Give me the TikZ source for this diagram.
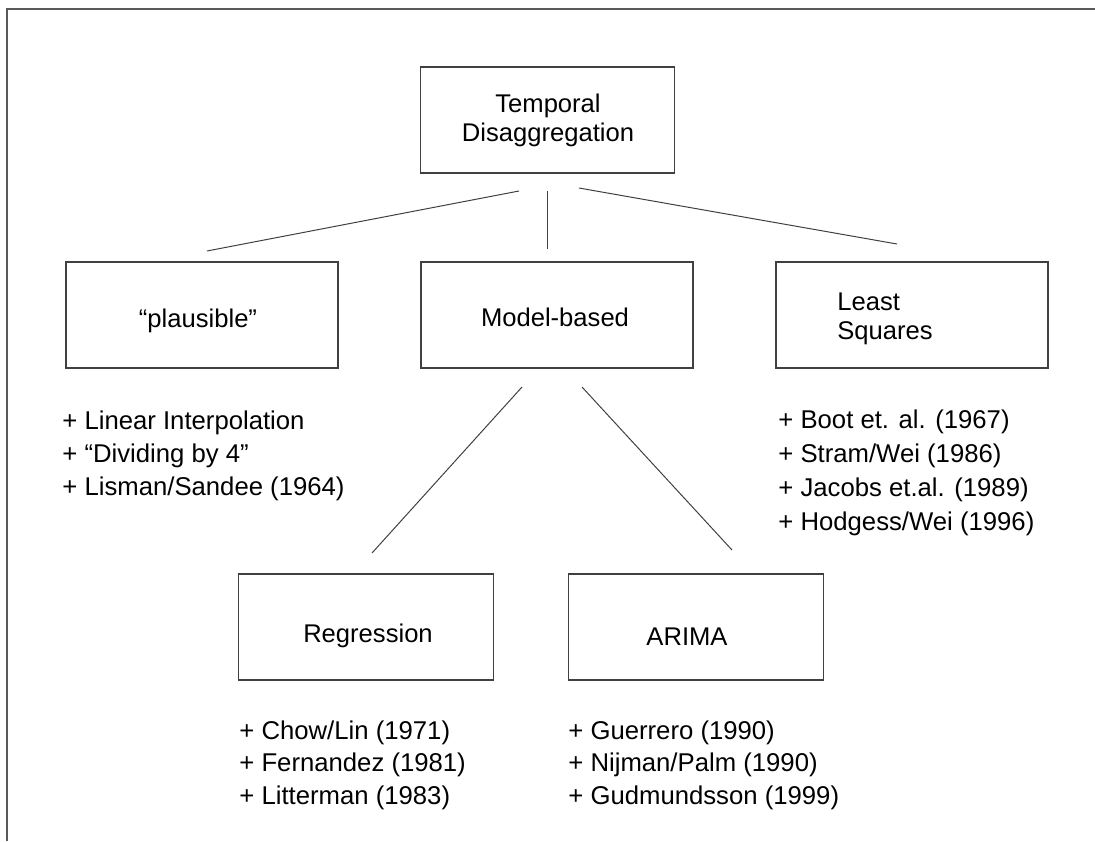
\documentclass[tikz,border=0pt]{standalone}
\usepackage{fontspec}
\setmainfont{Liberation Sans}
\begin{document}
\begin{tikzpicture}[x=0.5pt,y=-0.5pt,
  frameline/.style={draw=black!65, line width=1pt},
  box/.style={draw=black!75, line width=0.6pt, inner sep=0pt, minimum height=53pt},
  widebox/.style={box, minimum width=136pt},
  narrowbox/.style={box, minimum width=127.3pt},
  lbl/.style={anchor=base, inner sep=0pt, font=\fontsize{12.8}{15}\selectfont, text=black},
  item/.style={anchor=base west, inner sep=0pt, font=\fontsize{12.85}{15}\selectfont, text=black},
  conn/.style={draw=black!75, line width=0.5pt}]
\useasboundingbox (0,0) rectangle (1095,841);
% frame
\draw[frameline] (7,841) -- (7,9) -- (1095,9);

% boxes
\node[narrowbox] (top) at (547.5,120) {};
\node[widebox] (plaus) at (202,315) {};
\node[widebox] (model) at (557,315) {};
\node[widebox] (ls) at (912,315) {};
\node[narrowbox] (reg) at (366,627) {};
\node[narrowbox] (arima) at (696,627) {};

% box texts
\node[lbl] (topt1) at (548,112) {Temporal};
\node[lbl] (topt2) at (548,141) {Disaggregation};
\node[lbl] (plaust) at (198,327) {“plausible”};
\node[lbl] (modelt) at (555,326) {Model-based};
\node[lbl, anchor=base west] (lst1) at (837,310) {Least};
\node[lbl, anchor=base west] (lst2) at (837,339) {Squares};
\node[lbl] (regt) at (368,642) {Regression};
\node[lbl] (arimat) at (687,645) {ARIMA};

% lists
\node[item] (p1) at (62,429) {+ Linear Interpolation};
\node[item] (p2) at (62,462) {+ “Dividing by 4”};
\node[item] (p3) at (62,495) {+ Lisman/Sandee (1964)};

\node[item] (q1) at (778,428) {+ Boot et. al. (1967)};
\node[item] (q2) at (778,462) {+ Stram/Wei (1986)};
\node[item] (q3) at (778,496) {+ Jacobs et.al. (1989)};
\node[item] (q4) at (778,530) {+ Hodgess/Wei (1996)};

\node[item] (r1) at (239,739) {+ Chow/Lin (1971)};
\node[item] (r2) at (239,771) {+ Fernandez (1981)};
\node[item] (r3) at (239,804) {+ Litterman (1983)};

\node[item] (a1) at (568,739) {+ Guerrero (1990)};
\node[item] (a2) at (568,771) {+ Nijman/Palm (1990)};
\node[item] (a3) at (568,804) {+ Gudmundsson (1999)};

% connector end points
\coordinate (c1a) at (519,191); \coordinate (c1b) at (207,251);
\coordinate (c2a) at (547,191); \coordinate (c2b) at (547,249);
\coordinate (c3a) at (579,188); \coordinate (c3b) at (897,244);
\coordinate (c4a) at (522,387); \coordinate (c4b) at (372,553);
\coordinate (c5a) at (582,387); \coordinate (c5b) at (732,550);

\draw[conn] (c1a) -- (c1b);
\draw[conn] (c2a) -- (c2b);
\draw[conn] (c3a) -- (c3b);
\draw[conn] (c4a) -- (c4b);
\draw[conn] (c5a) -- (c5b);
\end{tikzpicture}
\end{document}
